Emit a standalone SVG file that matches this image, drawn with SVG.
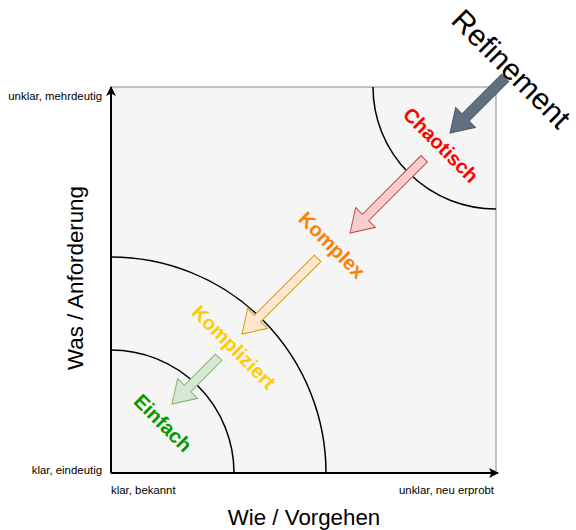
<svg xmlns="http://www.w3.org/2000/svg" width="576" height="530" viewBox="0 0 576 530">
  <style>
    .lbl { font-family: "Liberation Sans", Arial, sans-serif; fill: #000; }
    .small { font-size: 11.4px; }
    .axis { font-size: 22.3px; }
    .domain { font-size: 20px; font-weight: bold; text-anchor: middle; }
    .arc { fill: none; stroke: #000; stroke-width: 1.5; }
    .blk { stroke-width: 1; stroke-linejoin: miter; }
  </style>
  <defs>
    <marker id="head" viewBox="0 0 10 10" refX="9" refY="5" markerWidth="5" markerHeight="5" orient="auto" markerUnits="strokeWidth">
      <path d="M0,0 L10,5 L0,10 L2.5,5 Z" fill="#000"/>
    </marker>
  </defs>

  <!-- plot area -->
  <g id="field">
    <rect x="111" y="87" width="385" height="386" fill="#f5f5f5" stroke="#8a8a8a" stroke-width="1"/>
  </g>

  <!-- domain boundaries -->
  <g id="boundaries">
    <path class="arc" d="M373,87 A123,122 0 0 0 496,209"/>
    <path class="arc" d="M111,257 A215,216 0 0 1 326,473"/>
    <path class="arc" d="M111,350 A123,123 0 0 1 234,473"/>
  </g>

  <!-- axes -->
  <g id="connectors">
    <line x1="111" y1="473" x2="111" y2="87" stroke="#000" stroke-width="2" marker-end="url(#head)"/>
    <line x1="111" y1="473" x2="498" y2="473" stroke="#000" stroke-width="2" marker-end="url(#head)"/>
  </g>

  <!-- block arrows (tip at origin, pointing along +x, turned down-left) -->
  <g id="arrow-refinement" transform="translate(450,133) rotate(135)">
    <polygon class="blk" fill="#607080" stroke="#4f5d6b" points="-78,-5 -22,-5 -22,-14 0,0 -22,14 -22,5 -78,5"/>
  </g>
  <g id="arrow-chaotisch" transform="translate(350,233) rotate(135)">
    <polygon class="blk" fill="#f8cecc" stroke="#b85450" points="-105,-4.5 -22,-4.5 -22,-14 0,0 -22,14 -22,4.5 -105,4.5"/>
  </g>
  <g id="arrow-komplex" transform="translate(242,334) rotate(135)">
    <polygon class="blk" fill="#ffe6cc" stroke="#d79b00" points="-107,-4.5 -22,-4.5 -22,-14 0,0 -22,14 -22,4.5 -107,4.5"/>
  </g>
  <g id="arrow-kompliziert" transform="translate(172,404) rotate(135)">
    <polygon class="blk" fill="#d5e8d4" stroke="#82b366" points="-66,-4.5 -22,-4.5 -22,-14 0,0 -22,14 -22,4.5 -66,4.5"/>
  </g>

  <!-- domain labels -->
  <g id="label-refinement">
    <text class="lbl" font-size="30" text-anchor="middle" transform="translate(511,69) rotate(45)" y="10">Refinement</text>
  </g>
  <g id="label-chaotisch">
    <text class="lbl domain" style="fill:#ff0000" transform="translate(441,145) rotate(45)" y="7">Chaotisch</text>
  </g>
  <g id="label-komplex">
    <text class="lbl domain" style="fill:#ff8000" transform="translate(332,245) rotate(45)" y="7">Komplex</text>
  </g>
  <g id="label-kompliziert">
    <text class="lbl domain" style="fill:#ffcc00" transform="translate(234,347) rotate(45)" y="7">Kompliziert</text>
  </g>
  <g id="label-einfach">
    <text class="lbl domain" style="fill:#009900" transform="translate(163,423) rotate(45)" y="7">Einfach</text>
  </g>

  <!-- axis captions -->
  <g id="axis-labels">
    <text class="lbl small" x="102" y="100" text-anchor="end">unklar, mehrdeutig</text>
    <text class="lbl small" x="102" y="474" text-anchor="end">klar, eindeutig</text>
    <text class="lbl small" x="111" y="494">klar, bekannt</text>
    <text class="lbl small" x="494" y="494" text-anchor="end">unklar, neu erprobt</text>
    <text class="lbl axis" x="304" y="525" text-anchor="middle">Wie / Vorgehen</text>
    <text class="lbl axis" text-anchor="middle" transform="translate(83,278) rotate(-90)">Was / Anforderung</text>
  </g>
</svg>
